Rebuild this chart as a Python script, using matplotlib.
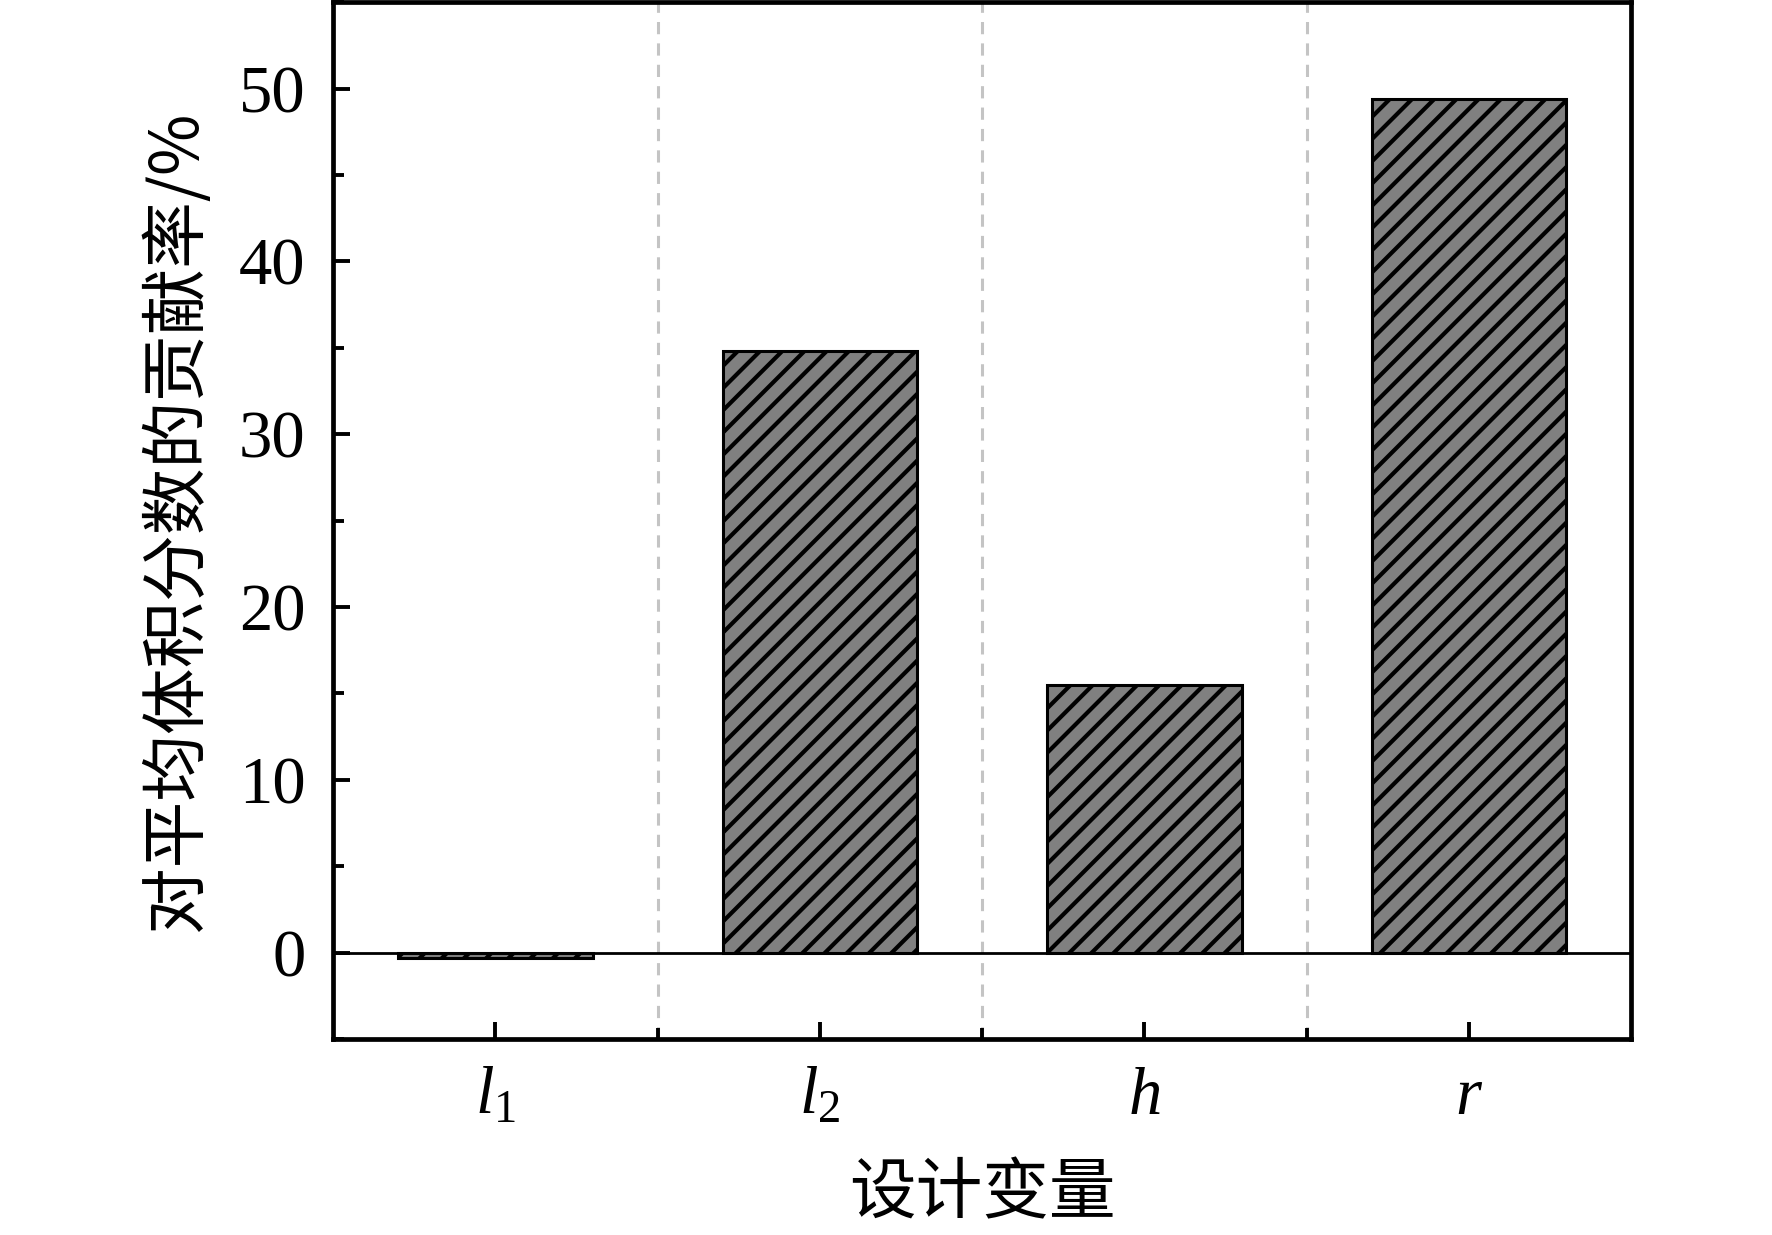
import matplotlib.pyplot as plt
from matplotlib.ticker import MultipleLocator, FixedLocator

# Data
categories = ["$l_1$", "$l_2$", "$h$", "$r$"]
contrib = [-0.3, 34.8, 15.5, 49.4]

plt.rcParams["font.family"] = ["Liberation Serif", "Noto Sans CJK SC"]
plt.rcParams["mathtext.fontset"] = "custom"
plt.rcParams["mathtext.rm"] = "Liberation Serif"
plt.rcParams["mathtext.it"] = "Liberation Serif:italic"
plt.rcParams["hatch.linewidth"] = 1.5

fig = plt.figure(figsize=(8.86, 6.175), dpi=200)
ax = fig.add_axes([0.188, 0.1587, 0.7325, 0.8395])

x = list(range(len(categories)))
ax.bar(x, contrib, width=0.6, color="#808080", edgecolor="black",
       linewidth=1.1, hatch="///", zorder=3)

# separators between groups and zero line
for xs in [0.5, 1.5, 2.5]:
    ax.axvline(xs, color="#c4c4c4", linestyle=(0, (4, 3)), linewidth=1.1, zorder=1)
ax.axhline(0, color="black", linewidth=1.0, zorder=4)

ax.set_xlim(-0.5, 3.5)
ax.set_ylim(-5, 55)

ax.set_xticks(x)
ax.set_xticklabels(categories, fontsize=24)
ax.xaxis.set_minor_locator(FixedLocator([0.5, 1.5, 2.5]))
ax.yaxis.set_major_locator(MultipleLocator(10))
ax.yaxis.set_minor_locator(MultipleLocator(5))
ax.tick_params(axis="both", which="major", direction="in", length=6, width=1.4,
               labelsize=24, pad=10)
ax.tick_params(axis="both", which="minor", direction="in", length=4, width=1.4)
ax.tick_params(axis="x", which="major", pad=10)

for sp in ax.spines.values():
    sp.set_linewidth(1.7)

ax.set_ylabel("对平均体积分数的贡献率/%", fontsize=24,
              family=["Noto Sans CJK SC", "Liberation Serif"], labelpad=10)
ax.set_xlabel("设计变量", fontsize=24,
              family=["Noto Sans CJK SC", "Liberation Serif"], labelpad=12)

plt.savefig("out.png", dpi=200)
